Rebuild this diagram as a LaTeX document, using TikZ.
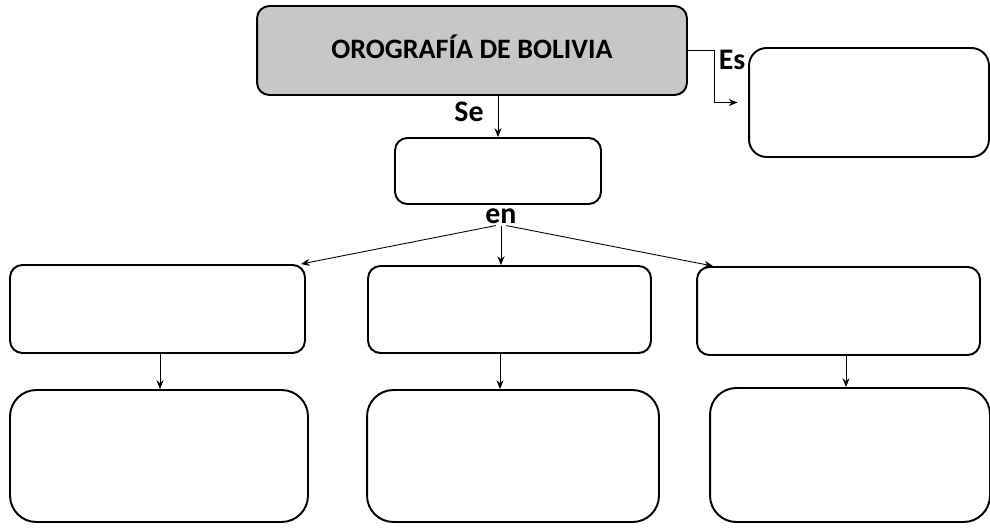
\documentclass[tikz,border=0pt]{standalone}
\usepackage{fontspec}
\setmainfont{Carlito}
\usetikzlibrary{positioning, arrows.meta}

\tikzset{
    caja/.style={draw, line width=1.1pt, rounded corners=7pt, inner sep=0pt},
    cajagrande/.style={draw, line width=1.1pt, rounded corners=15pt, inner sep=0pt},
    flecha/.style={-{Stealth[length=5pt, width=4pt]}, line width=0.5pt},
    etiqueta/.style={font=\fontsize{17}{19}\selectfont\bfseries, inner sep=1pt}
}

\begin{document}
\begin{tikzpicture}[x=0.02cm, y=-0.02cm]
    \useasboundingbox (0,0) rectangle (990,530);

    % titulo y definicion
    \node[caja, fill=black!22, minimum width=8.6cm, minimum height=1.78cm] (titulo) at (472,50.5) {};
    \node[font=\fontsize{16}{18}\selectfont\bfseries] (titulotexto) at (472,47) {OROGRAFÍA DE BOLIVIA};
    \node[caja, rounded corners=10pt, minimum width=4.8cm, minimum height=2.18cm] (es) at (869,102.5) {};
    \node[caja, minimum width=4.12cm, minimum height=1.32cm] (clasif) at (498,171) {};

    % primera fila
    \node[caja, minimum width=5.9cm, minimum height=1.76cm] (a1) at (157.5,309) {};
    \node[caja, minimum width=5.66cm, minimum height=1.74cm] (b1) at (509.5,309.5) {};
    \node[caja, minimum width=5.66cm, minimum height=1.76cm] (c1) at (838.5,311) {};

    % segunda fila
    \node[cajagrande, minimum width=5.96cm, minimum height=2.64cm] (a2) at (159,456) {};
    \node[cajagrande, minimum width=5.84cm, minimum height=2.64cm] (b2) at (513,456) {};
    \node[cajagrande, minimum width=5.6cm, minimum height=2.68cm] (c2) at (850,455) {};

    % etiquetas
    \node[etiqueta] (se) at (469,112) {Se};
    \node[etiqueta] (esl) at (732,60) {Es};
    \node[etiqueta] (en) at (501,216) {en};

    % conectores
    \draw[flecha, shorten >=6pt] (titulo.east) -- ++(27,0) |- (es.west);
    \draw[flecha] (clasif.north |- titulo.south) -- (clasif.north);
    \draw[flecha] (en.south) -- (en.south |- b1.north);
    \draw[flecha] ([xshift=-3pt]en.south) -- ([xshift=-0.1cm]a1.north east);
    \draw[flecha] ([xshift=3pt]en.south) -- ([xshift=0.34cm]c1.north west);
    \draw[flecha] ([xshift=0.05cm]a1.south) -- ([xshift=0.05cm]a1.south |- a2.north);
    \draw[flecha] ([xshift=-0.19cm]b1.south) -- ([xshift=-0.19cm]b1.south |- b2.north);
    \draw[flecha] ([xshift=0.15cm]c1.south) -- ([xshift=0.15cm]c1.south |- c2.north);
\end{tikzpicture}
\end{document}
